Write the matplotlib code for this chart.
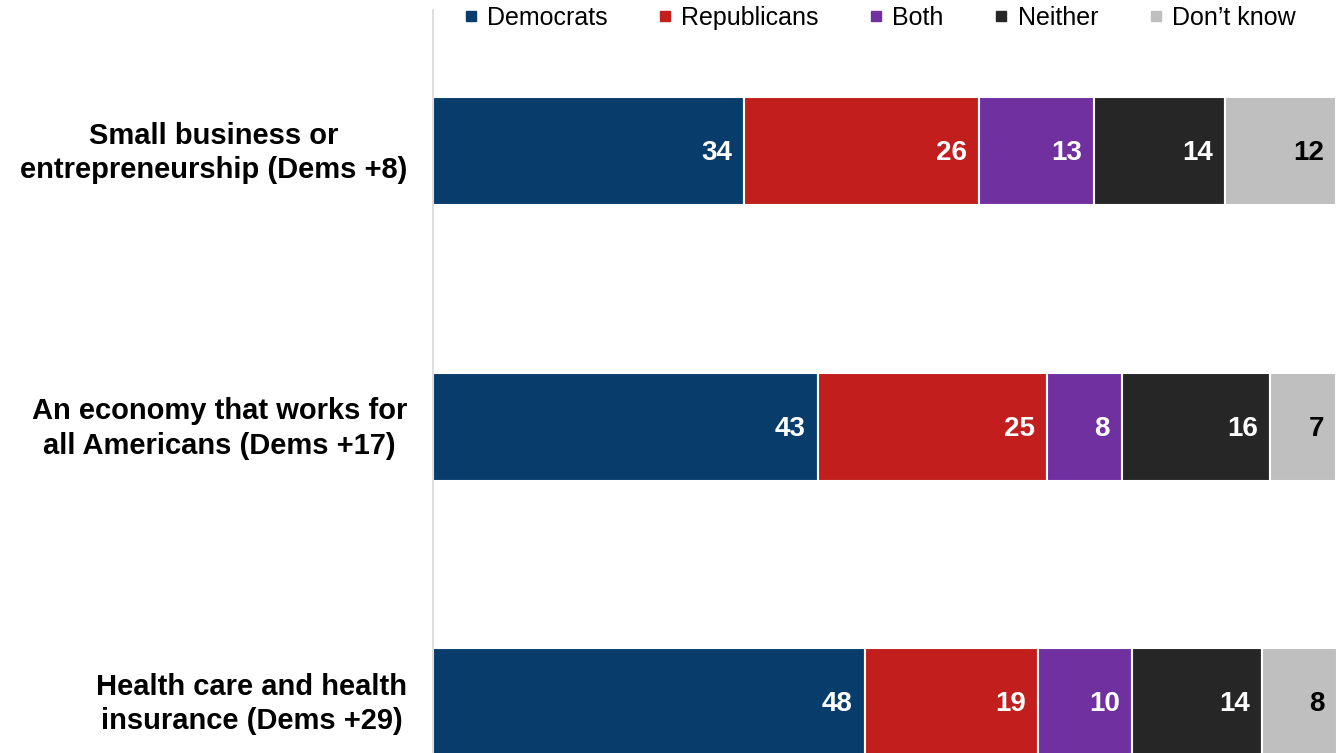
'''
plot.py

Stacked horizontal bars: which party is trusted more on three issues.
'''

import numpy as np
import matplotlib
matplotlib.use('Agg')
import matplotlib.pyplot as plt
from matplotlib.lines import Line2D

# data (bar lengths in %, printed labels are rounded)
issues = ['Small business or\nentrepreneurship (Dems +8)',
          'An economy that works for\nall Americans (Dems +17)',
          'Health care and health\ninsurance (Dems +29)']
parties = ['Democrats', 'Republicans', 'Both', 'Neither', 'Don\u2019t know']
democrats = [34.4, 42.5, 47.7]
republicans = [25.9, 25.4, 19.2]
both = [12.8, 8.2, 10.4]
neither = [14.4, 16.4, 14.3]
dont_know = [12.3, 7.3, 8.3]

colours = ['#083D6B', '#C21E1E', '#7030A0', '#262626', '#BFBFBF']
label_colours = ['white', 'white', 'white', 'white', 'black']

plt.rcParams['font.family'] = ['Liberation Sans', 'DejaVu Sans']


def main():
    fig = plt.figure(figsize=(13.41, 7.53), dpi=100)
    ax = fig.add_axes([433 / 1341, 0, (1337 - 433) / 1341, 1 - 10 / 753])

    series = [democrats, republicans, both, neither, dont_know]
    y = np.arange(len(issues))
    left = np.zeros(len(issues))
    for vals, col, tcol in zip(series, colours, label_colours):
        vals = np.array(vals, dtype=float)
        ax.barh(y, vals, left=left, height=0.392, color=col,
                edgecolor='white', linewidth=1.5)
        for yi, (l, v) in enumerate(zip(left, vals)):
            # round half up, like the original chart
            ax.annotate(str(int(v + 0.5)), xy=(l + v, yi), xytext=(-12, -2),
                        textcoords='offset pixels', ha='right',
                        va='center', color=tcol, fontsize=20,
                        fontweight='bold')
        left += vals

    ax.set_xlim(0, left.max())
    ax.set_ylim(2.185, -0.512)

    # category labels, right aligned, lines centred
    for yi, name in enumerate(issues):
        ax.annotate(name, xy=(0, yi), xytext=(-26, -2),
                    textcoords='offset pixels', ha='right', va='center',
                    ma='center', fontsize=21, fontweight='bold',
                    linespacing=1.3, annotation_clip=False)
    ax.set_yticks([])
    ax.set_xticks([])

    for s in ['top', 'right', 'bottom']:
        ax.spines[s].set_visible(False)
    ax.spines['left'].set_color('#D9D9D9')
    ax.spines['left'].set_linewidth(1.2)

    handles = [Line2D([], [], marker='s', linestyle='none', color=c,
                      markersize=6.5) for c in colours]
    fig.legend(handles, parties, loc='center left',
               bbox_to_anchor=(463 / 1341, 1 - 18 / 753), ncol=5,
               frameon=False, fontsize=18, handlelength=0.6,
               handletextpad=0.35, columnspacing=2.0,
               borderpad=0, borderaxespad=0)

    fig.savefig('out.png', dpi=100)


if __name__ == '__main__':
    main()
